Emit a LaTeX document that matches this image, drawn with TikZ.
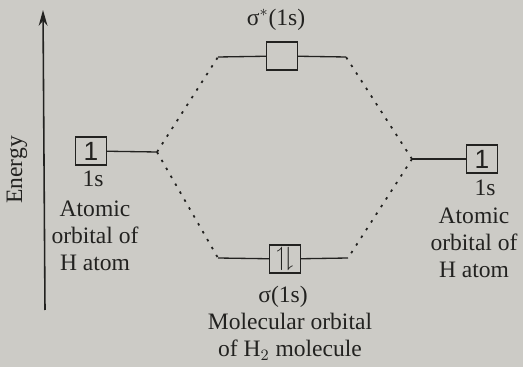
\documentclass[tikz,border=0pt]{standalone}
\usepackage{amssymb}
\usepackage{fontspec}
\setmainfont{Liberation Serif}
\newfontfamily\boxfont{Liberation Sans}
\usetikzlibrary{arrows.meta,positioning}

\definecolor{paper}{RGB}{204,203,198}
\definecolor{ink}{RGB}{34,34,32}

\begin{document}
\begin{tikzpicture}[x=0.02cm,y=-0.02cm,
              every node/.style={text=ink, font=\fontsize{13.4}{15.2}\selectfont},
              orb/.style={draw=ink, line width=0.8pt, minimum width=0.62cm,
                          minimum height=0.56cm, inner sep=0pt,
                          font=\boxfont\fontsize{15}{15}\selectfont},
              lvl/.style={draw=ink, line width=0.75pt},
              mix/.style={draw=ink, line width=1pt, dash pattern=on 1.4pt off 3.8pt},
              lbl/.style={align=center, inner sep=0pt}]
  \fill[paper] (0,0) rectangle (523,367);
  \useasboundingbox (0,0) rectangle (523,367);

  % energy axis
  \coordinate (axb) at (45,310);
  \coordinate (axt) at (43,10);
  \draw[ink, line width=0.9pt, -{Stealth[length=9pt,width=5pt]}] (axb) -- (axt);
  \node[rotate=90] (energy) at (17,170) {Energy};

  % atomic orbitals
  \node[orb] (lbox) at (91,151) {1};
  \node[orb] (rbox) at (482,159) {1};
  \coordinate (lend) at (157,152);
  \coordinate (rend) at (412,159);
  \draw[lvl] (lbox) -- (lend);
  \draw[lvl] (rbox) -- (rend);
  \node[lbl] (l1s) at (93,179) {1s};
  \node[lbl] (r1s) at (485,188) {1s};
  \node[lbl] (latom) at (95,236) {Atomic\\orbital of\\H atom};
  \node[lbl] (ratom) at (474,243) {Atomic\\orbital of\\H atom};

  % molecular orbitals
  \node[orb] (abox) at (282,56) {};
  \node[orb] (bbox) at (285,259) {$\upharpoonleft\!\downharpoonright$};
  \coordinate (atl) at (218,57);
  \coordinate (atr) at (346,57);
  \coordinate (btl) at (218,258);
  \coordinate (btr) at (348,258);
  \draw[lvl] (atl) -- (abox) -- (atr);
  \draw[lvl] (btl) -- (bbox) -- (btr);
  \node[lbl] (astar) at (276,20) {σ$^*$(1s)};
  \node[lbl] (bsig) at (283,297) {σ(1s)};
  \node[lbl] (bmol) at (290,337) {Molecular orbital\\of H$_2$ molecule};

  % correlation lines
  \draw[mix] (lend) -- (atl);
  \draw[mix] (lend) -- (btl);
  \draw[mix] (rend) -- (atr);
  \draw[mix] (rend) -- (btr);
\end{tikzpicture}
\end{document}
